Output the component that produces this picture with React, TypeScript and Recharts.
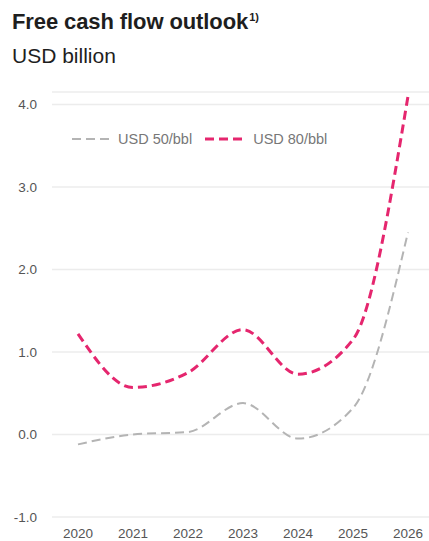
import React from "react";
import { LineChart, Line, XAxis, YAxis, CartesianGrid, Legend } from "recharts";

const years = ["2020", "2021", "2022", "2023", "2024", "2025", "2026"];
const usd50 = [-0.12, 0.0, 0.03, 0.38, -0.05, 0.32, 2.45];
const usd80 = [1.22, 0.57, 0.75, 1.27, 0.73, 1.15, 4.1];
const yTicks = [-1, 0, 1, 2, 3, 4];

const GREY = "#b4b4b4";
const PINK = "#e5266e";
const FONT = "'Liberation Sans', Arial, Helvetica, sans-serif";

const data = years.map((y, i) => ({ year: y, low: usd50[i], high: usd80[i] }));

const renderLegend = () => (
  <div style={{ display: "flex", alignItems: "center", fontFamily: FONT, fontSize: 14.5, color: "#777", lineHeight: "16px" }}>
    <svg width={38} height={8}>
      <line x1={0} y1={4} x2={38} y2={4} stroke={GREY} strokeWidth={2} strokeDasharray="9 5" />
    </svg>
    <span style={{ marginLeft: 8 }}>USD 50/bbl</span>
    <svg width={40} height={8} style={{ marginLeft: 13 }}>
      <line x1={0} y1={4} x2={40} y2={4} stroke={PINK} strokeWidth={3} strokeDasharray="9 5" />
    </svg>
    <span style={{ marginLeft: 8 }}>USD 80/bbl</span>
  </div>
);

const App: React.FC = () => (
  <div style={{ position: "absolute", left: 0, top: 0, width: 429, height: 541, background: "#fff" }}>
    <div style={{ position: "absolute", left: 12, top: 10, fontFamily: FONT, color: "#1e1e1e" }}>
      <div style={{ fontSize: 22, fontWeight: 700, lineHeight: "24px", letterSpacing: -0.1 }}>
        Free cash flow outlook
        <span style={{ fontSize: 11, position: "relative", top: -8, marginLeft: 1 }}>1)</span>
      </div>
      <div style={{ fontSize: 21, lineHeight: "24px", marginTop: 7 }}>USD billion</div>
    </div>
    <LineChart
      width={429}
      height={541}
      data={data}
      margin={{ top: 76, right: 0, bottom: 0, left: 0 }}
    >
      <CartesianGrid vertical={false} stroke="#ececec" strokeWidth={1.5} />
      <XAxis
        dataKey="year"
        axisLine={false}
        tickLine={false}
        tickSize={0}
        tickMargin={11}
        height={24}
        padding={{ left: 26, right: 21 }}
        tick={{ fontSize: 13.5, fill: "#555", fontFamily: FONT }}
      />
      <YAxis
        domain={[-1, 4.15]}
        ticks={yTicks}
        allowDataOverflow
        width={52}
        axisLine={false}
        tickLine={false}
        tickSize={0}
        tickMargin={15}
        tickFormatter={(v: number) => v.toFixed(1)}
        tick={{ fontSize: 13.5, fill: "#555", fontFamily: FONT }}
      />
      <Legend
        content={renderLegend}
        verticalAlign="top"
        wrapperStyle={{ top: 131, left: 72, width: "auto" }}
      />
      <Line
        type="monotone"
        dataKey="low"
        stroke={GREY}
        strokeWidth={2}
        strokeDasharray="9 5"
        dot={false}
        isAnimationActive={false}
      />
      <Line
        type="monotone"
        dataKey="high"
        stroke={PINK}
        strokeWidth={3}
        strokeDasharray="9 5"
        dot={false}
        isAnimationActive={false}
      />
    </LineChart>
  </div>
);

export default App;
